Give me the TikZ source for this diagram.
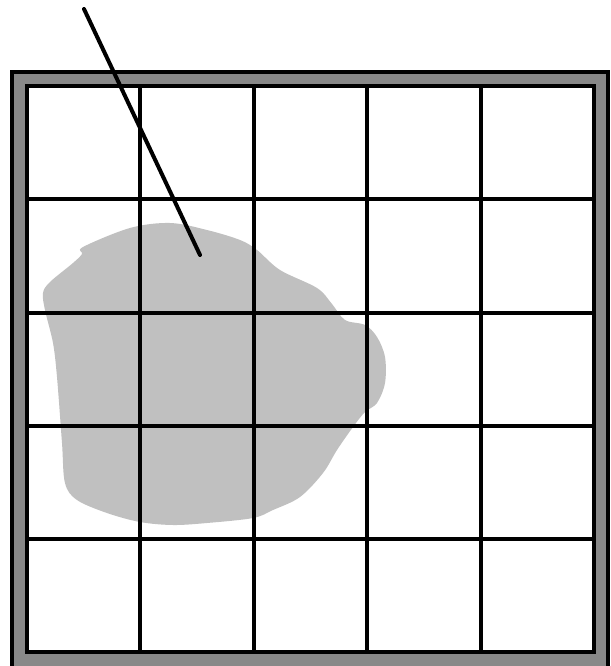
\documentclass[tikz,border=0pt]{standalone}
\usepackage{xcolor}
\definecolor{framegray}{RGB}{136,136,136}
\definecolor{blobgray}{RGB}{192,192,192}
\usepackage{tikz}
\tikzset{
  frame_band/.style={draw=black,fill=framegray,line width=4pt},
  frame_in/.style={draw=black,fill=white,line width=4pt},
  grid_line/.style={draw=black,line width=4pt},
  blob/.style={fill=blobgray,draw=none},
  probe/.style={draw=black,line width=4pt,line cap=round},
}

\begin{document}
\begin{tikzpicture}[x=1pt,y=-1pt]
  \useasboundingbox (0,0) rectangle (610,666);
  \begin{scope}
    \clip (0,0) rectangle (610,666);
    % frame
    \draw[frame_band] (12,72) rectangle (608,668);
    \draw[frame_in] (27,86) rectangle (594,652);
    % shaded region
    \fill[blob] plot[smooth cycle,tension=0.55] coordinates {
      (83,247) (130,228) (170,223) (207,230) (240,240) (257,250)
      (280,270) (317,288) (332,304) (345,320) (365,325) (377,337)
      (385,357) (385,383) (377,403) (365,412) (353,427) (337,450)
      (323,473) (300,497) (273,510) (253,518) (207,523) (173,525)
      (140,522) (107,513) (77,500) (65,483) (62,443) (57,377)
      (53,343) (45,310) (43,293) (50,282) (73,263) (82,254)};
    % grid
    \foreach \gx in {140,254,367,481}
      \draw[grid_line] (\gx,86) -- (\gx,652);
    \foreach \gy in {199,313,426,539}
      \draw[grid_line] (27,\gy) -- (594,\gy);
    \draw[grid_line] (27,86) rectangle (594,652);
    % probe line
    \coordinate (tip_top) at (84,9);
    \coordinate (tip_end) at (200,255);
    \draw[probe] (tip_top) -- (tip_end);
  \end{scope}
\end{tikzpicture}
\end{document}
